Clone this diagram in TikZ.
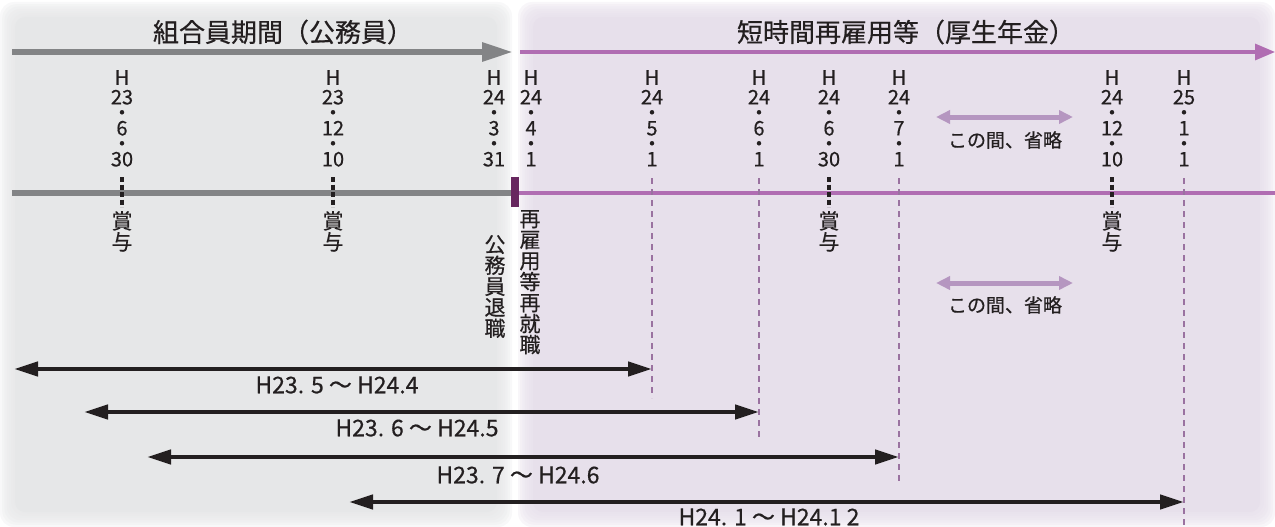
\documentclass[tikz,border=0pt]{standalone}
\usepackage{fontspec}
\setmainfont{Noto Sans CJK JP}[FakeBold=0.5]
\usetikzlibrary{arrows.meta}
\definecolor{panelgray}{HTML}{E6E7E8}
\definecolor{panelpurple}{HTML}{E7E0EB}
\definecolor{axisgray}{HTML}{838486}
\definecolor{axispurple}{HTML}{B06DB2}
\definecolor{darkpurple}{HTML}{67275F}
\definecolor{dashpurple}{HTML}{9A72A0}
\definecolor{lightarrow}{HTML}{B596C0}
\definecolor{ink}{HTML}{231F20}
\newcommand{\softpanel}[5]{%
  \foreach \i in {0,...,6}{%
    \fill[#1,opacity=0.28,rounded corners=14pt] ({#2+2.2*\i},{#3+2.2*\i}) rectangle ({#4-2.2*\i},{#5-2.2*\i});
  }%
  \fill[#1,rounded corners=10pt] ({#2+15},{#3+15}) rectangle ({#4-15},{#5-15});
}
\tikzset{
  title/.style={font=\fontsize{26}{30}\selectfont, text=ink, inner sep=0pt},
  datelbl/.style={font=\fontsize{20}{15.5}\selectfont, text=ink, align=center, inner sep=0pt, anchor=north},
  vtext/.style={font=\fontsize{21}{21}\selectfont, text=ink, align=center, inner sep=0pt, anchor=north},
  bonus/.style={ink, line width=4.5pt, dash pattern=on 5pt off 2.5pt},
  monthline/.style={dashpurple, line width=2pt, dash pattern=on 6pt off 5pt},
  span/.style={ink, line width=4.5pt, {Triangle[length=24pt,width=14pt]}-{Triangle[length=24pt,width=14pt]}},
  spanlbl/.style={font=\fontsize{23}{26}\selectfont, text=ink, inner sep=0pt},
  skip/.style={lightarrow, line width=5pt, {Triangle[length=14pt,width=13pt]}-{Triangle[length=14pt,width=13pt]}},
  skiplbl/.style={font=\fontsize{19}{22}\selectfont, text=ink, inner sep=0pt},
}
\begin{document}
\begin{tikzpicture}[x=1pt,y=-1pt]
\useasboundingbox (0,0) rectangle (1275,527);
\softpanel{panelgray}{0}{2}{512}{527}
\softpanel{panelpurple}{518}{2}{1275}{527}

% titles
\node[title] (t1) at (283,32) {組合員期間（公務員）};
\node[title] (t2) at (906,32) {短時間再雇用等（厚生年金）};

% top axis arrows
\coordinate (ga0) at (12,52);
\coordinate (ga1) at (513,52);
\coordinate (pa0) at (520,52);
\coordinate (pa1) at (1275,52);
\draw[axisgray, line width=6pt, -{Triangle[length=31pt,width=18pt]}] (ga0) -- (ga1);
\draw[axispurple, line width=3.2pt, -{Triangle[length=20pt,width=16pt]}] (pa0) -- (pa1);

% base timeline
\coordinate (gb0) at (12,193);
\coordinate (gb1) at (511,193);
\coordinate (pb0) at (519,193);
\coordinate (pb1) at (1275,193);
\draw[axisgray, line width=6pt] (gb0) -- (gb1);
\draw[axispurple, line width=3.5pt] (pb0) -- (pb1);
\coordinate (rt0) at (515,177);
\coordinate (rt1) at (515,207);
\draw[darkpurple, line width=8pt] (rt0) -- (rt1);

% date labels
\node[datelbl] (d1) at (122,70) {H\\[4pt]23\\・\\6\\・\\30};
\node[datelbl] (d2) at (333,70) {H\\[4pt]23\\・\\12\\・\\10};
\node[datelbl] (d3) at (494,70) {H\\[4pt]24\\・\\3\\・\\31};
\node[datelbl] (d4) at (531,70) {H\\[4pt]24\\・\\4\\・\\1};
\node[datelbl] (d5) at (652,70) {H\\[4pt]24\\・\\5\\・\\1};
\node[datelbl] (d6) at (759,70) {H\\[4pt]24\\・\\6\\・\\1};
\node[datelbl] (d7) at (829,70) {H\\[4pt]24\\・\\6\\・\\30};
\node[datelbl] (d8) at (899,70) {H\\[4pt]24\\・\\7\\・\\1};
\node[datelbl] (d9) at (1112,70) {H\\[4pt]24\\・\\12\\・\\10};
\node[datelbl] (d10) at (1184,70) {H\\[4pt]25\\・\\1\\・\\1};

% bonus markers
\foreach \n/\x in {b1/122,b2/333,b3/829,b4/1112}{
  \coordinate (\n t) at (\x,177);
  \coordinate (\n b) at (\x,207);
  \draw[bonus] (\n t) -- (\n b);
  \node[vtext] (\n l) at (\x,211) {賞\\与};
}

% month dashed lines
\coordinate (m1t) at (652,178); \coordinate (m1b) at (652,398);
\coordinate (m2t) at (759,178); \coordinate (m2b) at (759,440);
\coordinate (m3t) at (899,178); \coordinate (m3b) at (899,485);
\coordinate (m4t) at (1184,178); \coordinate (m4b) at (1184,527);
\draw[monthline] (m1t) -- (m1b);
\draw[monthline] (m2t) -- (m2b);
\draw[monthline] (m3t) -- (m3b);
\draw[monthline] (m4t) -- (m4b);

% vertical texts
\node[vtext] (ret) at (495,235) {公\\務\\員\\退\\職};
\node[vtext] (rehire) at (530,210) {再\\雇\\用\\等\\再\\就\\職};

% skip arrows
\coordinate (s1l) at (936,117); \coordinate (s1r) at (1073,117);
\draw[skip] (s1l) -- (s1r);
\node[skiplbl] (s1t) at (1005,140) {この間、省略};
\coordinate (s2l) at (936,283); \coordinate (s2r) at (1073,283);
\draw[skip] (s2l) -- (s2r);
\node[skiplbl] (s2t) at (1005,305) {この間、省略};

% span arrows
\coordinate (a1l) at (14,369); \coordinate (a1r) at (652,369);
\coordinate (a2l) at (84,412); \coordinate (a2r) at (759,412);
\coordinate (a3l) at (147,457); \coordinate (a3r) at (899,457);
\coordinate (a4l) at (349,502); \coordinate (a4r) at (1184,502);
\draw[span] (a1l) -- (a1r);
\draw[span] (a2l) -- (a2r);
\draw[span] (a3l) -- (a3r);
\draw[span] (a4l) -- (a4r);
\node[spanlbl] (l1) at (337,385) {H23. 5 ～ H24.4};
\node[spanlbl] (l2) at (417,428) {H23. 6 ～ H24.5};
\node[spanlbl] (l3) at (518,475) {H23. 7 ～ H24.6};
\node[spanlbl] (l4) at (769,517) {H24. 1 ～ H24.1 2};
\end{tikzpicture}
\end{document}
